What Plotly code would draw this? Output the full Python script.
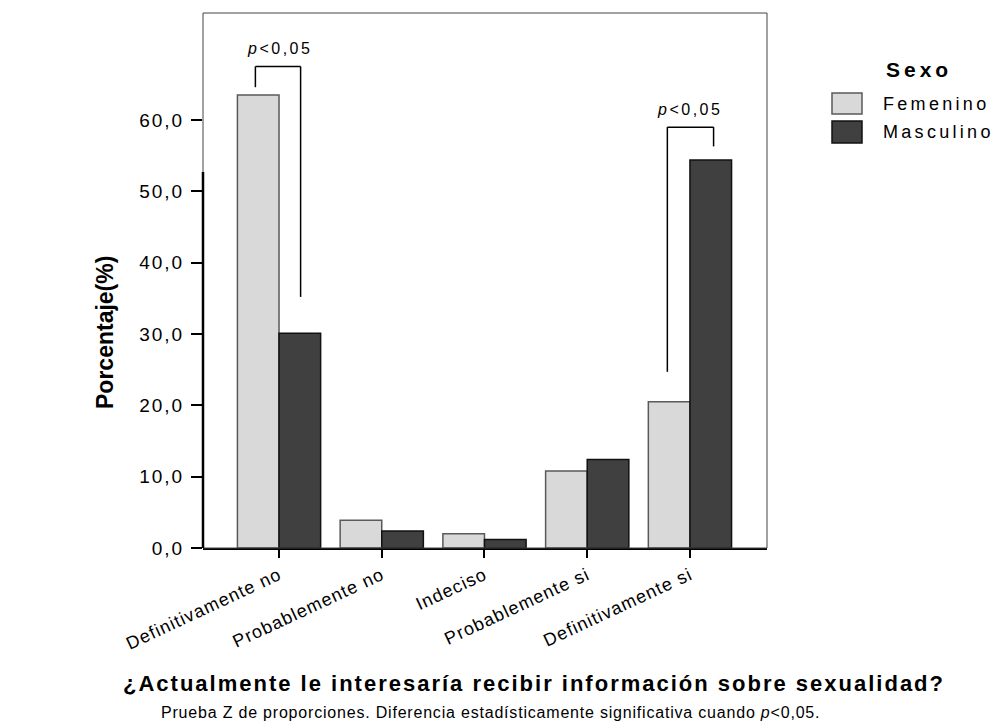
import plotly.graph_objects as go

# ---- data -------------------------------------------------------------
categorias = ["Definitivamente no", "Probablemente no", "Indeciso",
              "Probablemente si", "Definitivamente si"]
femenino = [63.5, 3.9, 2.0, 10.8, 20.5]
masculino = [30.1, 2.4, 1.2, 12.4, 54.4]
y_ticks = [0, 10, 20, 30, 40, 50, 60]
y_tick_labels = ["0,0", "10,0", "20,0", "30,0", "40,0", "50,0", "60,0"]

# ---- figure geometry (pixels) ----------------------------------------
W, H = 999, 723
L, R, T, B = 203, 767, 13, 548          # plot-area edges


def px(x):
    return (x - L) / (R - L)


def py(y):
    return (B - y) / (B - T)


FONT = "Liberation Sans, Arial, sans-serif"


def spaced(text, s):
    return f'<span style="letter-spacing:{s}px">{text}</span>'


fig = go.Figure()
fig.add_bar(x=categorias, y=femenino, name="Femenino",
            marker=dict(color="#d9d9d9", line=dict(color="#5a5a5a", width=1.5)))
fig.add_bar(x=categorias, y=masculino, name="Masculino",
            marker=dict(color="#404040", line=dict(color="#111111", width=1.5)))

fig.update_layout(
    width=W, height=H,
    margin=dict(l=L, r=W - R, t=T, b=H - B, pad=0),
    barmode="group", bargap=0.19, bargroupgap=0,
    plot_bgcolor="white", paper_bgcolor="white",
    showlegend=False,
    font=dict(family=FONT, color="black"),
)

fig.update_xaxes(
    type="category", range=[-0.74, 4.75],
    showline=True, linecolor="black", linewidth=1.5,
    ticks="outside", ticklen=8, tickwidth=2, tickcolor="black",
    tickangle=-25,
    tickvals=categorias, ticktext=[spaced(c, 1.1) for c in categorias],
    tickfont=dict(size=18, family=FONT, color="black"),
    showgrid=False, zeroline=False,
)
fig.update_yaxes(
    range=[0, 75],
    tickvals=y_ticks, ticktext=[spaced(t, 2) for t in y_tick_labels],
    ticks="outside", ticklen=11, tickwidth=1.5, tickcolor="black",
    tickfont=dict(size=19, family=FONT, color="black"),
    ticklabelstandoff=3,
    showline=False, showgrid=False, zeroline=False,
)

shapes = [
    # frame around the plot area
    dict(type="rect", xref="paper", yref="paper", x0=0, x1=1, y0=0, y1=1,
         line=dict(color="#444444", width=1)),
    # vertical axis line
    dict(type="line", xref="paper", yref="paper", x0=0, x1=0, y0=0, y1=py(172),
         line=dict(color="black", width=2.5)),
]


# significance brackets: (category, left offset, right offset, top, left foot, right foot)
def bracket(cat, dl, dr, top, foot_l, foot_r):
    xl, xr = cat + dl, cat + dr
    st = dict(color="black", width=1.5)
    return [
        dict(type="line", xref="x", yref="y", x0=xl, x1=xl, y0=foot_l, y1=top, line=st),
        dict(type="line", xref="x", yref="y", x0=xl, x1=xr, y0=top, y1=top, line=st),
        dict(type="line", xref="x", yref="y", x0=xr, x1=xr, y0=top, y1=foot_r, line=st),
    ]


shapes += bracket(0, -0.23, 0.21, 67.5, femenino[0] + 1.1, masculino[0] + 5.1)
shapes += bracket(4, -0.22, 0.23, 59.0, femenino[4] + 4.2, masculino[4] + 1.9)

# custom legend swatches
shapes += [
    dict(type="rect", xref="paper", yref="paper", x0=px(832), x1=px(862),
         y0=py(114), y1=py(93), fillcolor="#d9d9d9", line=dict(color="#5a5a5a", width=1.5)),
    dict(type="rect", xref="paper", yref="paper", x0=px(832), x1=px(862),
         y0=py(143), y1=py(121), fillcolor="#404040", line=dict(color="#111111", width=1.5)),
]
fig.update_layout(shapes=shapes)

ann = []
p_text = spaced("<i>p</i>&lt;0,05", 2.5)
ann.append(dict(xref="x", yref="y", x=0, y=70.0, text=p_text, showarrow=False,
                font=dict(size=16, family=FONT), xanchor="center", yanchor="middle"))
ann.append(dict(xref="x", yref="y", x=4, y=61.5, text=p_text, showarrow=False,
                font=dict(size=16, family=FONT), xanchor="center", yanchor="middle"))

# legend text
ann.append(dict(xref="paper", yref="paper", x=px(884), y=py(70), text=spaced("<b>Sexo</b>", 4),
                showarrow=False, font=dict(size=21, family=FONT), xanchor="left", yanchor="middle"))
ann.append(dict(xref="paper", yref="paper", x=px(881), y=py(104), text=spaced("Femenino", 3.3),
                showarrow=False, font=dict(size=18, family=FONT), xanchor="left", yanchor="middle"))
ann.append(dict(xref="paper", yref="paper", x=px(881), y=py(132), text=spaced("Masculino", 3.3),
                showarrow=False, font=dict(size=18, family=FONT), xanchor="left", yanchor="middle"))

# axis title
ann.append(dict(xref="paper", yref="paper", x=px(104.5), y=py(332.5), text="<b>Porcentaje(%)</b>",
                textangle=-90, showarrow=False,
                font=dict(size=23, family=FONT),
                xanchor="center", yanchor="middle"))

# question and footnote
ann.append(dict(xref="paper", yref="paper", x=px(533.5), y=py(683),
                text=spaced("<b>¿Actualmente le interesaría recibir información sobre sexualidad?</b>", 2),
                showarrow=False, font=dict(size=22, family=FONT), xanchor="center", yanchor="middle"))
ann.append(dict(xref="paper", yref="paper", x=px(490), y=py(712),
                text=spaced("Prueba Z de proporciones. Diferencia estadísticamente significativa cuando <i>p</i>&lt;0,05.", 0.8),
                showarrow=False, font=dict(size=16, family=FONT), xanchor="center", yanchor="middle"))
fig.update_layout(annotations=ann)

fig.write_html("out.html")
